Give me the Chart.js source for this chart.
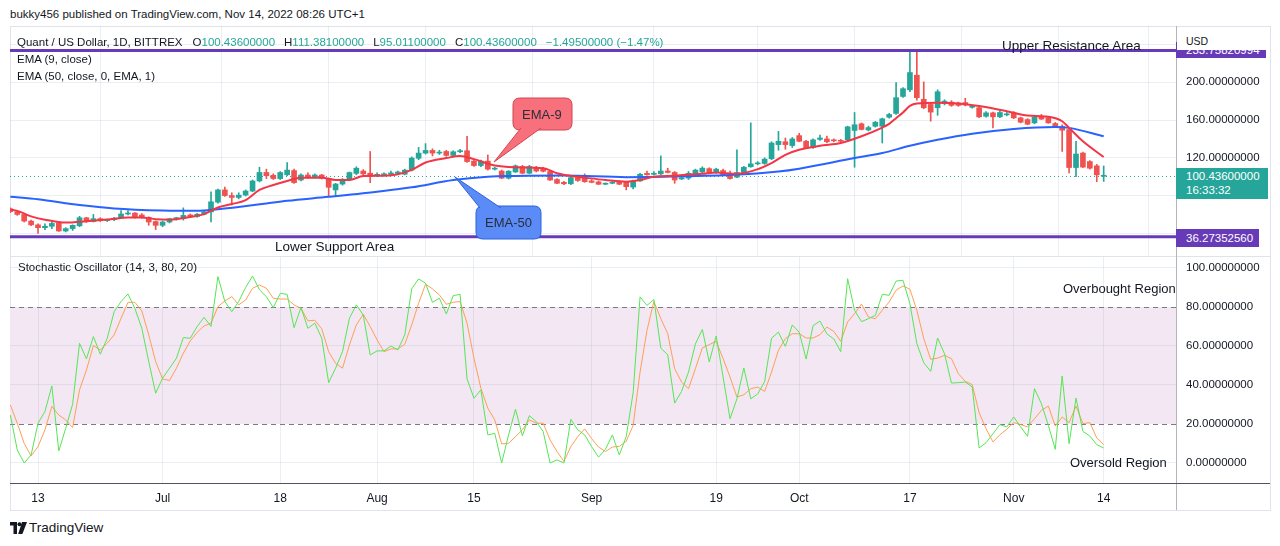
<!DOCTYPE html>
<html>
<head>
<meta charset="utf-8">
<title>Quant / US Dollar, 1D</title>
<script src="https://cdn.jsdelivr.net/npm/chart.js@4.4.1/dist/chart.umd.min.js"></script>
<style>
  html, body { margin: 0; padding: 0; background: #fff; }
  body { width: 1280px; height: 546px; position: relative; overflow: hidden;
         font-family: "Liberation Sans", Arial, sans-serif; color: #131722; }
  .txt { position: absolute; white-space: nowrap; line-height: 1; }
  .pane { position: absolute; left: 10px; width: 1260px; }
  .rule { position: absolute; }
  .tag { position: absolute; left: 1176px; color: #fff; font-size: 11.5px; padding-left: 10px;
         box-sizing: border-box; white-space: nowrap; }
  .up { color: #26a69a; }
</style>
</head>
<body>
<div class="txt" style="left:10px;top:9px;font-size:11.5px">bukky456 published on TradingView.com, Nov 14, 2022 08:26 UTC+1</div>

<div class="rule" style="left:10px;top:26px;width:1259px;height:483px;border:1px solid #e0e3eb"></div>
<div class="pane" style="top:26px;height:230px"><canvas id="price"></canvas></div>
<div class="pane" style="top:257px;height:253px"><canvas id="stoch"></canvas></div>

<div class="rule" style="left:10px;top:256px;width:1260px;height:1px;background:#e0e3eb"></div>
<div class="rule" style="left:1176px;top:26px;width:1px;height:484px;background:#b2b5be"></div>
<div class="rule" style="left:10px;top:483px;width:1260px;height:1px;background:#50535e"></div>

<div class="txt" style="left:17px;top:37px;font-size:11.5px">Quant / US Dollar, 1D, BITTREX<span style="margin-left:10px">O</span><span class="up">100.43600000</span><span style="margin-left:9px">H</span><span class="up">111.38100000</span><span style="margin-left:9px">L</span><span class="up">95.01100000</span><span style="margin-left:9px">C</span><span class="up">100.43600000</span><span class="up" style="margin-left:9px">−1.49500000 (−1.47%)</span></div>
<div class="txt" style="left:17px;top:54px;font-size:11.5px">EMA (9, close)</div>
<div class="txt" style="left:17px;top:71px;font-size:11.5px">EMA (50, close, 0, EMA, 1)</div>
<div class="txt" style="left:1002px;top:39px;font-size:13.5px">Upper Resistance Area</div>
<div class="txt" style="left:275px;top:240px;font-size:13.5px">Lower Support Area</div>
<div class="txt" style="left:522px;top:108px;font-size:13px;color:#2a2e39">EMA-9</div>
<div class="txt" style="left:485px;top:216px;font-size:13px;color:#2a2e39">EMA-50</div>

<div class="txt" style="left:18px;top:262px;font-size:11.5px">Stochastic Oscillator (14, 3, 80, 20)</div>
<div class="txt" style="left:1063px;top:282px;font-size:13px">Overbought Region</div>
<div class="txt" style="left:1070px;top:456px;font-size:13px">Oversold Region</div>

<div class="tag" id="tagTop" style="width:90px;height:16px;line-height:16px;background:#673ab7">233.75820994</div>
<div class="tag" id="tagLast" style="width:92px;height:31px;background:#26a69a;line-height:14px;padding-top:1px">100.43600000<br>16:33:32</div>
<div class="tag" id="tagLow" style="width:83px;height:18px;line-height:18px;background:#673ab7">36.27352560</div>
<div class="txt" style="left:1177px;top:27px;width:92px;height:23px;background:#fff"></div>
<div class="txt" style="left:1186px;top:36px;font-size:10.5px;color:#131722">USD</div>

<svg class="rule" style="left:10px;top:522px" width="17" height="12" viewBox="0 0 17 12">
  <path d="M0 0h7v12H3.5V3.5H0z" fill="#131722"/>
  <circle cx="9.5" cy="2.2" r="2" fill="#131722"/>
  <path d="M12 0h5l-4.6 12H8.2z" fill="#131722"/>
</svg>
<div class="txt" style="left:29px;top:521px;font-size:13.5px">TradingView</div>

<script>
// day 0 = 2022-06-09, one candle per day up to Nov 14 (day 158)
const tickDays = [4, 22, 39, 53, 67, 84, 102, 114, 130, 145, 158];
const tickLabels = ["13", "Jul", "18", "Aug", "15", "Sep", "19", "Oct", "17", "Nov", "14"];
const priceTicks = [40, 80, 120, 160, 200, 240];
const stochTicks = [0, 20, 40, 60, 80, 100];

const opens = [
  66, 63, 60, 53, 49, 46, 47.5, 51, 42.5, 45, 48, 56.5, 52.5, 55.5, 53.5, 54.5, 56, 60.5, 61.5, 59.5, 57, 52.5,
  48.5, 52, 55.5, 56, 59.5, 58, 60.3, 62.7, 73, 86, 80, 78, 80.5, 84.8, 95.5, 104.5, 101.5, 98, 102, 106.5, 96.5, 101.8, 99.5, 101.8, 98, 86, 92.2, 97, 103.5, 106, 103.7,
  101, 102, 102.5, 103.5, 102.6, 107, 119.5, 125, 127.8, 125, 126.7, 122.5, 126.5, 127.5, 116.5, 111.8, 116.5, 108, 106, 98.4, 105, 110.8, 103.7, 109, 108.5, 105.5, 97, 94, 92.5, 99, 98.5,
  95.5, 94.5, 92, 93, 94.5, 94, 89, 95.5, 103.5, 102.5, 103, 106, 104.5, 97.5, 98.5, 103, 105, 108.5, 104.5, 106.5, 102.5, 99.5, 104.5, 110.5, 113.6, 114, 119, 134, 137, 133,
  143.5, 137.5, 131, 139.5, 140, 139, 138, 139, 149, 156, 149.5, 153.4, 153.4, 163, 167, 185, 192, 207.5, 182, 176.5, 173, 177.5, 179, 178, 178.5, 173.5, 173, 164, 167.6, 163.4, 165.5,
  167.6, 162.3, 160.5, 157, 163.8, 162.5, 156.3, 153.4, 149.9, 109.7, 125, 116, 111.5, 100.436
];
const highs = [
  67, 64, 61, 54, 50, 50, 52, 52, 46, 49, 58, 57, 60, 56.5, 55, 57, 64, 64, 62, 61, 57.5, 53,
  53, 56, 57, 67, 60.5, 61, 63.5, 84, 87, 89, 83, 83, 86, 96.5, 110, 108, 103, 105.5, 115, 108, 103, 104, 103, 102.5, 98.5, 93, 98, 105, 110.5, 107.5, 126.7,
  104, 104, 106, 106, 108, 121, 131, 135, 129.5, 128, 128, 127.5, 129, 142.7, 118, 117.5, 123, 110, 107, 106.5, 112.5, 112, 112, 111, 110, 106.5, 98, 95, 100, 100, 103,
  97, 95.5, 93.5, 95, 95.5, 95, 96.5, 103.5, 106, 105.5, 122, 109, 105.5, 100, 105.5, 108, 110.5, 109.5, 109, 108, 106, 128.5, 111, 157, 116, 120, 137, 148, 141, 141.5,
  146, 138.5, 140, 144, 143, 140, 139.5, 153.5, 168, 157, 153.5, 158.5, 162, 167, 199.6, 194.5, 235, 233.4, 200.4, 178, 192, 181.5, 180.5, 179, 183, 175.5, 174.5, 169, 168.5, 170, 168,
  169, 163, 161.5, 164, 166, 163.5, 157.5, 155, 151, 137.4, 126, 117, 113, 111.381
];
const lows = [
  62, 59, 52, 48, 40, 44, 45, 42, 41.5, 43, 47, 51.5, 52, 52.5, 52.5, 53.5, 55.5, 59.5, 56, 56, 48.5, 44,
  47, 51, 54, 54, 57.5, 57, 59.5, 52, 72, 79, 70, 76.5, 79.5, 84, 94.5, 98, 97, 97, 101, 93, 95.5, 98.5, 98.5, 97.5, 79, 80, 91, 96, 102, 102, 93.7,
  100, 101, 101.5, 102.5, 102, 106, 118, 124, 122, 123.5, 121.5, 121.5, 125.5, 115, 111, 110.5, 107, 107, 98, 97.5, 104.5, 103, 103, 105, 105, 96, 92.5, 91.5, 91.5, 95, 94,
  93.5, 91.5, 91.5, 92.5, 91.5, 86, 87, 95, 101.5, 102, 102, 104, 93, 97, 97, 102, 104, 104, 103.5, 101.5, 97.5, 99, 104, 110, 112.5, 113, 118, 128, 129, 131,
  137, 130, 130, 138.5, 136, 137, 136.5, 137, 110, 149.5, 148.5, 152.5, 135.7, 162, 166, 184, 190, 181, 172, 158.8, 165, 176, 174.5, 174.5, 175, 172.5, 162.5, 163, 151.7, 162.5, 164.5,
  161.5, 157, 155, 156, 160.5, 156.5, 152, 126.7, 104, 100, 109.5, 108, 94.7, 95.011
];
const closes = [
  63, 60, 53, 49, 46, 47.5, 50.5, 42.5, 45, 48.5, 56.5, 52.5, 55.5, 53.5, 54.5, 56, 60.5, 61.5, 57, 57, 52, 48.5,
  52, 55.5, 56, 59, 58, 60.3, 62.7, 73.4, 86, 80, 78, 80.5, 84.8, 95.5, 104.5, 101, 98, 104.4, 107, 93.7, 101.8, 99.5, 101.8, 98.4, 88.8, 92.2, 97.3, 104.4, 109, 103, 100,
  102.5, 103, 104, 105, 107, 119.7, 125, 127.8, 125, 126, 122.5, 126.4, 127.5, 116, 111.8, 116.5, 108, 108.8, 98.4, 105.8, 111.5, 103.7, 110.8, 106, 105.7, 96.5, 93, 92.5, 99, 96, 94.7,
  94, 92, 92.8, 94, 92, 89.4, 95.5, 102.6, 102, 103.5, 106, 104.5, 96.5, 99, 103.5, 107, 109, 104.5, 108, 102, 98, 104.4, 110, 113.6, 114.5, 118.6, 135.7, 137.5, 134, 140,
  137.5, 130.5, 139, 141, 137, 138, 137.5, 152.8, 155, 150, 152, 157.7, 161.3, 165.9, 183.7, 193.2, 210.3, 183.7, 173, 168.4, 190, 180, 175.5, 175.5, 176, 174.5, 163.4, 167.6, 163.4, 168, 166.5,
  162.3, 157.7, 155.6, 163, 161, 157, 152.7, 149.2, 109.7, 124, 110.2, 109, 101.93, 100.436
];

const ema9Days = [0, 1, 3, 5, 8, 11, 14, 17, 19, 21, 23, 26, 28, 30, 32, 34, 36, 38, 40, 42, 45, 47, 49, 51, 53, 56, 58, 60, 63, 65, 67, 70, 73, 77, 79, 81, 83, 86, 89, 91, 93, 96, 100, 102, 105, 108, 110, 112, 114, 117, 120, 123, 126, 127, 128, 129, 130, 131, 134, 137, 140, 144, 147, 150, 152, 153, 155, 158];
const ema9Values = [65.3, 63.8, 58, 54.5, 51.4, 52.8, 54.6, 56.8, 56.8, 55, 54.5, 57.4, 60.3, 67.4, 71, 75.2, 86, 91.2, 95.5, 99, 99, 96.5, 96.5, 100.8, 100.9, 102.6, 107.2, 115, 119.7, 122, 118.6, 111.8, 110, 109, 103.7, 100.8, 99, 96.5, 94.7, 96.5, 100, 101.1, 103, 104.4, 103, 107.9, 114.3, 123.2, 128.5, 132.8, 135.7, 142.8, 152, 156, 162, 168, 175, 177.6, 178.3, 177.6, 174.8, 169.4, 164.8, 163.4, 158.7, 151.7, 137.5, 120.8];
const ema50Days = [0, 4, 10, 15, 22, 27, 30, 33, 37, 40, 46, 53, 58, 64, 69, 73, 80, 89, 99, 104, 111, 114, 122, 126, 130, 134, 139, 145, 151, 153, 158];
const ema50Values = [78.7, 76, 70, 66.4, 64.2, 63.8, 65.6, 68, 71.7, 74.5, 78.7, 84.1, 88.7, 96.5, 100, 100.8, 101.2, 99.5, 100.8, 101.8, 105.5, 108.5, 119.7, 125, 132.8, 139.2, 145.6, 150.6, 152.7, 151.7, 142.8];

const stochK = [
  24.6, 6.7, 0, 4.1, 20.4, 26.4, 39.5, 6.2, 17.8, 30.1, 61.4, 53.4, 64.8, 55.8, 64, 77.6, 82.8, 86.7, 79.3, 69.1, 52, 35.8,
  43.5, 48.6, 53.7, 64.3, 64, 70, 74.7, 70, 95.6, 82.8, 77.6, 82.8, 90, 95.9, 88.8, 85.3, 79.7, 87, 86.5, 69.4, 79.7, 69.1, 71.7, 64, 41.2, 48.6, 57.1, 74.2, 81.1, 75.9, 55.4,
  57.5, 57.5, 60, 58, 65.7, 89.3, 94.4, 92.2, 82.4, 84.5, 76.4, 85.8, 86.5, 43.1, 33.2, 37.5, 14.4, 15.2, 0, 14.4, 27.6, 13.9, 24.3, 21.2, 16.1, 0, 1.6, 0, 22.4, 17, 14.4,
  8.4, 3, 7, 14.4, 4.1, 13.5, 36, 85.2, 80.8, 83.9, 58.9, 55.5, 30.7, 36.7, 46.6, 61.1, 68.5, 51.8, 65.1, 44.1, 22.7, 32.9, 48.7, 32.9, 35.4, 41.7, 64, 67.1, 59.8, 70.8,
  67.1, 53.3, 70.4, 72.8, 66.2, 63.6, 57.1, 94.5, 78.3, 72.5, 74, 75.7, 86.5, 86, 93.3, 93.7, 81.7, 61.2, 51.4, 47, 64.1, 56, 41, 41.2, 41.5, 39, 7.7, 10.4, 15, 19.7, 18.5,
  23.6, 18.5, 13.7, 38.1, 30.4, 19.3, 7, 44.6, 9.9, 33.3, 16.2, 13.8, 9.4, 7.7
];
const stochD = [
  29.8, 20.4, 10.1, 3.6, 8.4, 17, 29, 24.6, 22.1, 18.2, 37.5, 47.7, 60.2, 58, 61.4, 65.7, 74.2, 82.4, 82.4, 78, 65.7, 52,
  43.1, 42.3, 48.6, 56.3, 62.6, 67, 70.3, 71.7, 80.2, 83.1, 85.3, 81.1, 83.6, 89.6, 91.3, 89.6, 84.5, 84.1, 84.1, 81.1, 79.3, 72.9, 73.2, 68.8, 57.1, 51.1, 48.6, 60.5, 70.8, 76.3, 70,
  63.1, 57.1, 58.5, 58.5, 60.9, 70.8, 81.9, 91.7, 89.3, 86.2, 81.4, 82.4, 82.8, 71.7, 53.7, 38.3, 28.1, 22.1, 9.8, 10.1, 13.5, 17, 22.1, 20.4, 20.4, 11.8, 5.9, 0.8, 8.4, 13.5, 17.5,
  12.5, 8.2, 5.9, 8.2, 8.5, 11.1, 19.3, 46.6, 68, 82.9, 74, 66.3, 48.4, 41.5, 38.1, 48.4, 59, 60.7, 62.4, 53.5, 44.1, 33.8, 35, 38.1, 38.9, 36.7, 46.6, 57.8, 63.8, 66.3,
  66.3, 64.1, 64.1, 65.8, 69.7, 67.5, 62.4, 72.3, 76.6, 81.5, 74.9, 74, 78.3, 82.6, 88.6, 90.8, 89.1, 78.3, 63.8, 53.2, 53.8, 55.2, 53.5, 45.8, 41.9, 40.2, 25.8, 17.6, 10.8, 14.5, 17.3,
  20.7, 19.7, 18.5, 22.7, 27, 29.2, 19, 23.6, 20.7, 29.2, 20.2, 20.7, 12.8, 9.4
];

const resistanceLevel = 233.75820994;
const supportLevel = 36.2735256;
const lastPrice = 100.436;

// ---- look ----
const upColor = "#26a69a";
const downColor = "#ef5350";
const gridColor = "rgba(100, 130, 170, 0.13)";
const xMin = -0.05, xMax = 168.45;

Chart.defaults.font.family = "'Liberation Sans', Arial, sans-serif";
Chart.defaults.color = "#131722";

const days = closes.map((c, i) => i);
const candleColors = closes.map((c, i) => (c >= opens[i] ? upColor : downColor));

function noPad(s) { s.paddingLeft = 0; s.paddingRight = 0; s.paddingTop = 0; s.paddingBottom = 0; }

function roundedRect(ctx, x, y, w, h, r) {
  ctx.beginPath();
  ctx.moveTo(x + r, y);
  ctx.lineTo(x + w - r, y); ctx.quadraticCurveTo(x + w, y, x + w, y + r);
  ctx.lineTo(x + w, y + h - r); ctx.quadraticCurveTo(x + w, y + h, x + w - r, y + h);
  ctx.lineTo(x + r, y + h); ctx.quadraticCurveTo(x, y + h, x, y + h - r);
  ctx.lineTo(x, y + r); ctx.quadraticCurveTo(x, y, x + r, y);
  ctx.closePath();
}

function drawCallout(ctx, box, tail, fill, stroke) {
  ctx.save();
  ctx.lineWidth = 1;
  ctx.strokeStyle = stroke;
  ctx.fillStyle = fill;
  roundedRect(ctx, box.x, box.y, box.w, box.h, 7);
  ctx.fill(); ctx.stroke();
  ctx.beginPath();
  ctx.moveTo(tail[0][0], tail[0][1]); ctx.lineTo(tail[2][0], tail[2][1]); ctx.lineTo(tail[1][0], tail[1][1]);
  ctx.closePath();
  ctx.fill();
  ctx.beginPath();
  ctx.moveTo(tail[0][0], tail[0][1]); ctx.lineTo(tail[2][0], tail[2][1]); ctx.lineTo(tail[1][0], tail[1][1]);
  ctx.stroke();
  ctx.restore();
}

const priceOverlay = {
  id: "priceOverlay",
  beforeDatasetsDraw(chart) {
    const { ctx, chartArea: a, scales: { y } } = chart;
    const py = Math.round(y.getPixelForValue(lastPrice)) + 0.5;
    ctx.save();
    ctx.strokeStyle = upColor; ctx.lineWidth = 1; ctx.setLineDash([1, 3]);
    ctx.beginPath(); ctx.moveTo(a.left, py); ctx.lineTo(a.right, py); ctx.stroke();
    ctx.restore();
  },
  afterDatasetsDraw(chart) {
    const { ctx, chartArea: a, scales: { y } } = chart;
    ctx.save();
    ctx.strokeStyle = "#673ab7"; ctx.lineWidth = 3;
    [resistanceLevel, supportLevel].forEach(v => {
      const py = y.getPixelForValue(v);
      ctx.beginPath(); ctx.moveTo(a.left, py); ctx.lineTo(a.right, py); ctx.stroke();
    });
    ctx.restore();
    // callouts (canvas coords = page coords - (10, 26))
    drawCallout(ctx, { x: 503, y: 72, w: 59, h: 32 }, [[511, 102], [531, 102], [484, 136]], "#f7707b", "#d24450");
    drawCallout(ctx, { x: 466, y: 180, w: 65, h: 33 }, [[470, 182], [491, 182], [445, 151]], "#5b8bf7", "#2f62db");
  }
};

const stochOverlay = {
  id: "stochOverlay",
  beforeDraw(chart) {
    const { ctx, chartArea: a, scales: { y } } = chart;
    const top = y.getPixelForValue(80), bot = y.getPixelForValue(20);
    ctx.save();
    ctx.fillStyle = "#f3e7f3";
    ctx.fillRect(a.left, top, a.right - a.left, bot - top);
    ctx.restore();
  },
  beforeDatasetsDraw(chart) {
    const { ctx, chartArea: a, scales: { y } } = chart;
    ctx.save();
    ctx.strokeStyle = "#787b86"; ctx.lineWidth = 1; ctx.setLineDash([5, 4]);
    [80, 20].forEach(v => {
      const py = Math.round(y.getPixelForValue(v)) + 0.5;
      ctx.beginPath(); ctx.moveTo(a.left, py); ctx.lineTo(a.right, py); ctx.stroke();
    });
    ctx.restore();
  }
};

const priceChart = new Chart(document.getElementById("price"), {
  type: "bar",
  data: {
    datasets: [
      { type: "line", data: ema9Days.map((d, i) => ({ x: d, y: ema9Values[i] })), borderColor: "#f23645",
        borderWidth: 2, pointRadius: 0, cubicInterpolationMode: "monotone", order: 0 },
      { type: "line", data: ema50Days.map((d, i) => ({ x: d, y: ema50Values[i] })), borderColor: "#2962ff",
        borderWidth: 2, pointRadius: 0, cubicInterpolationMode: "monotone", order: 0 },
      { data: days.map(d => ({ x: d, y: [opens[d], closes[d]] })), backgroundColor: candleColors,
        barThickness: 5, minBarLength: 1, grouped: false, order: 1 },
      { data: days.map(d => ({ x: d, y: [lows[d], highs[d]] })), backgroundColor: candleColors,
        barThickness: 1, grouped: false, order: 2 }
    ]
  },
  options: {
    responsive: true, maintainAspectRatio: false, animation: false, devicePixelRatio: 1,
    layout: { padding: 0 },
    plugins: { legend: { display: false }, tooltip: { enabled: false } },
    scales: {
      x: {
        type: "linear", min: xMin, max: xMax, offset: false,
        afterBuildTicks: s => { s.ticks = tickDays.map(v => ({ value: v })); },
        afterFit: s => { s.height = 0; noPad(s); },
        ticks: { display: false },
        grid: { color: gridColor, drawTicks: false },
        border: { display: false }
      },
      y: {
        position: "right", min: 16.0, max: 259.6,
        afterBuildTicks: s => { s.ticks = priceTicks.map(v => ({ value: v })); },
        afterFit: s => { s.width = 94; noPad(s); },
        ticks: { callback: v => Number(v).toFixed(8), padding: 10, font: { size: 11.5 } },
        grid: { color: gridColor, drawTicks: false },
        border: { display: false }
      }
    }
  },
  plugins: [priceOverlay]
});

const stochChart = new Chart(document.getElementById("stoch"), {
  type: "line",
  data: {
    datasets: [
      { data: days.map(d => ({ x: d, y: stochK[d] })), borderColor: "#55e655", borderWidth: 1, pointRadius: 0 },
      { data: days.map(d => ({ x: d, y: stochD[d] })), borderColor: "#ff9f55", borderWidth: 1, pointRadius: 0 }
    ]
  },
  options: {
    responsive: true, maintainAspectRatio: false, animation: false, devicePixelRatio: 1,
    layout: { padding: 0 },
    plugins: { legend: { display: false }, tooltip: { enabled: false } },
    scales: {
      x: {
        type: "linear", min: xMin, max: xMax,
        afterBuildTicks: s => { s.ticks = tickDays.map(v => ({ value: v })); },
        afterFit: s => { s.height = 27; noPad(s); },
        ticks: { callback: (v, i) => tickLabels[i], autoSkip: false, maxRotation: 0, padding: 8, font: { size: 12 } },
        grid: { color: gridColor, drawTicks: false },
        border: { display: false }
      },
      y: {
        position: "right", min: -10.26, max: 105.64,
        afterBuildTicks: s => { s.ticks = stochTicks.map(v => ({ value: v })); },
        afterFit: s => { s.width = 94; noPad(s); },
        ticks: { callback: v => Number(v).toFixed(8), padding: 10, font: { size: 11.5 } },
        grid: { color: c => (c.tick && (c.tick.value === 20 || c.tick.value === 80)) ? "rgba(0,0,0,0)" : gridColor, drawTicks: false },
        border: { display: false }
      }
    }
  },
  plugins: [stochOverlay]
});

// price-axis tags follow the price scale
const yPage = v => 26 + priceChart.scales.y.getPixelForValue(v);
document.getElementById("tagTop").style.top = (yPage(resistanceLevel) - 8) + "px";
document.getElementById("tagLast").style.top = (yPage(lastPrice) - 8) + "px";
document.getElementById("tagLow").style.top = (yPage(supportLevel) - 8) + "px";
</script>
</body>
</html>
